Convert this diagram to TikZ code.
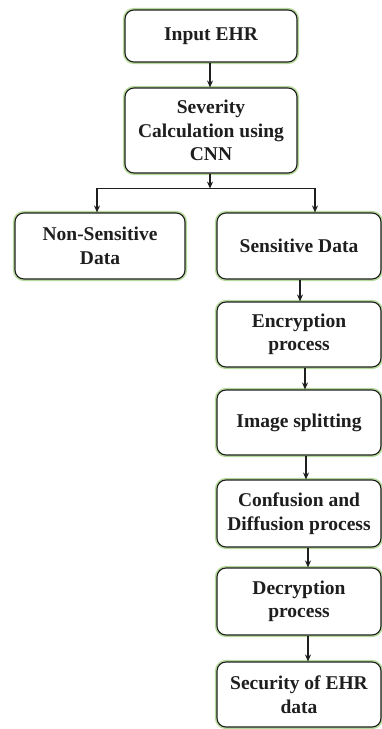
\documentclass[tikz,border=0pt]{standalone}
\usepackage{fontspec}
\setmainfont{Liberation Serif}
\usetikzlibrary{arrows.meta,calc}
\definecolor{glow}{HTML}{B5D99A}
\definecolor{ink}{HTML}{1E1E1E}
\tikzset{
  box/.style={draw=ink, line width=1.1pt, rounded corners=9pt,
    preaction={draw=glow, line width=4.2pt},
    fill=white, align=center, inner sep=2pt, text=ink,
    font=\fontsize{19.5}{23.5}\selectfont\bfseries},
  arr/.style={draw=ink, line width=1.1pt, -{Stealth[length=7pt,width=6pt]}},
  link/.style={draw=ink, line width=1.1pt}
}
\begin{document}
\begin{tikzpicture}[x=1pt,y=1pt]
\useasboundingbox (0,0) rectangle (382,-729);
% main column
\node[box, minimum width=172pt, minimum height=52pt] (in) at (211,-36) {Input EHR};
\node[box, minimum width=172pt, minimum height=85pt] (sev) at (211,-130.5) {Severity\\Calculation using\\CNN};
% split into the two data classes
\node[box, minimum width=170pt, minimum height=66pt] (non) at (100,-246) {Non-Sensitive\\Data};
\node[box, minimum width=164pt, minimum height=66pt] (sen) at (299,-246) {Sensitive Data};
% processing chain for sensitive data
\node[box, minimum width=164pt, minimum height=65pt] (enc) at (299,-334.5) {Encryption\\process};
\node[box, minimum width=164pt, minimum height=65pt] (img) at (299,-422.5) {Image splitting};
\node[box, minimum width=164pt, minimum height=67pt] (con) at (299,-513.5) {Confusion and\\Diffusion process};
\node[box, minimum width=164pt, minimum height=67pt] (dec) at (299,-601.5) {Decryption\\process};
\node[box, minimum width=164pt, minimum height=65pt] (sec) at (299,-694.5) {Security of EHR\\data};
% connectors
\draw[arr] ([xshift=-1pt]in.south) -- ([xshift=-1pt]sev.north);
\coordinate (split) at ($([xshift=-1pt]sev.south)+(0,-15)$);
\coordinate (lt) at ([xshift=-3pt]non.north);
\coordinate (rt) at ([xshift=16pt]sen.north);
\draw[arr] ([xshift=-1pt]sev.south) -- (split);
\draw[link] (split) -| ($(lt)+(0,24)$);
\draw[link] (split) -| ($(rt)+(0,24)$);
\draw[arr] ($(lt)+(0,24)$) -- (lt);
\draw[arr] ($(rt)+(0,24)$) -- (rt);
\draw[arr] ([xshift=1pt]sen.south) -- ([xshift=1pt]enc.north);
\draw[arr] ([xshift=6pt]enc.south) -- ([xshift=6pt]img.north);
\draw[arr] ([xshift=7pt]img.south) -- ([xshift=7pt]con.north);
\draw[arr] ([xshift=9pt]con.south) -- ([xshift=9pt]dec.north);
\draw[arr] ([xshift=9pt]dec.south) -- ([xshift=9pt]sec.north);
\end{tikzpicture}
\end{document}
